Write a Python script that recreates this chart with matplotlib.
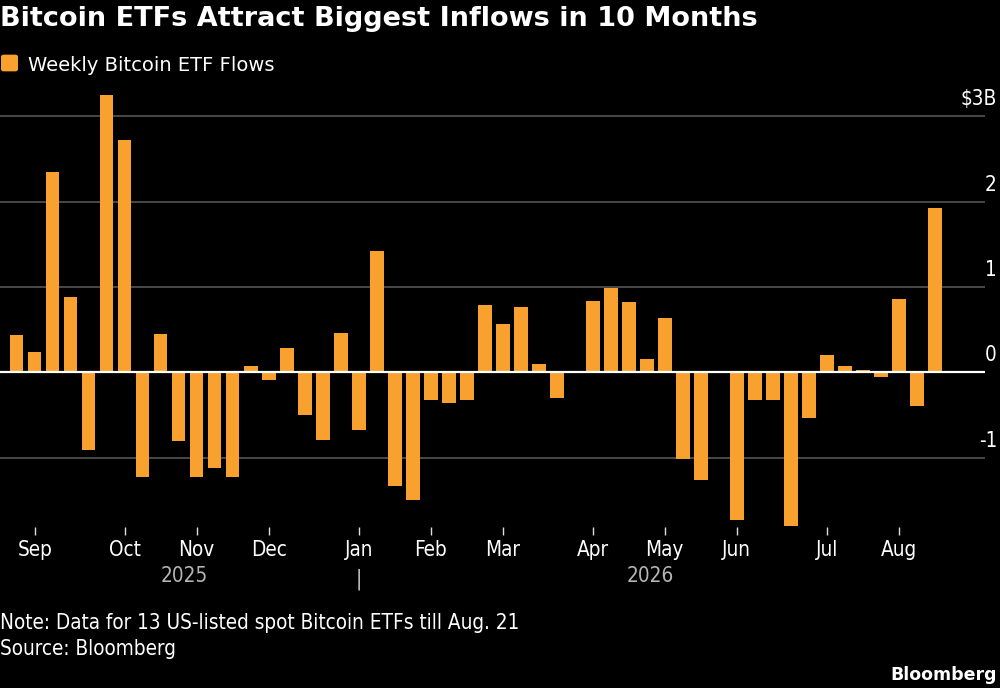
import matplotlib
matplotlib.use("Agg")
import matplotlib.pyplot as plt
from matplotlib import font_manager as fm
from matplotlib.patches import FancyBboxPatch
from matplotlib.transforms import blended_transform_factory

# weekly flows, $ billions, Sep 2025 .. Aug 21 2026
flows = [0.44, 0.24, 2.34, 0.88, -0.91, 3.25, 2.72, -1.23, 0.45, -0.80,
         -1.23, -1.12, -1.23, 0.07, -0.09, 0.29, -0.50, -0.79, 0.46, -0.68,
         1.42, -1.33, -1.49, -0.32, -0.36, -0.32, 0.79, 0.57, 0.76, 0.10,
         -0.30, 0.02, 0.84, 0.99, 0.82, 0.16, 0.63, -1.01, -1.26, 0.0,
         -1.73, -0.32, -0.32, -1.80, -0.53, 0.20, 0.07, 0.03, -0.06, 0.86,
         -0.39, 1.92]
month_weeks = [1, 6, 10, 14, 19, 23, 27, 32, 36, 40, 45, 49]
month_labels = ["Sep", "Oct", "Nov", "Dec", "Jan", "Feb", "Mar", "Apr",
                "May", "Jun", "Jul", "Aug"]
year_labels = ["2025", "2026"]
year_pos = [9.3, 35.2]
y_ticks = [-1, 0, 1, 2, 3]
y_tick_labels = ["-1", "0", "1", "2", "$3B"]

ORANGE = "#F9A12E"
BG = "black"
W, H = 1000, 688

# pick a narrow font for the axis / footnote text if we have one
cond_file = None
for f in fm.fontManager.ttflist:
    if f.name == "DejaVu Sans" and "Condensed" in f.fname and f.weight in ("normal", 400) and f.style == "normal":
        cond_file = f.fname
        break
if cond_file:
    small = fm.FontProperties(fname=cond_file, size=14.9)
else:
    small = fm.FontProperties(family="DejaVu Sans", size=13.5)


def fx(px):
    return px / W


def fy(py):
    return (H - py) / H


fig = plt.figure(figsize=(10, 6.88), dpi=100, facecolor=BG)
ax_top, ax_bot, ax_right = 90, 527, 985
ax = fig.add_axes([0, fy(ax_bot), fx(ax_right), (ax_bot - ax_top) / H])
ax.set_facecolor(BG)

xs = list(range(len(flows)))
ax.bar(xs, flows, width=0.75, color=ORANGE, zorder=2)

ax.set_xlim(-0.93, 53.79)
zero_px = 372.3
unit_px = 85.4
ax.set_ylim((zero_px - ax_bot) / unit_px, (zero_px - ax_top) / unit_px)

for v in y_ticks:
    if v == 0:
        ax.axhline(0, color="white", lw=1.6, zorder=3)
    else:
        ax.axhline(v, color="#5c5c5c", lw=1.1, zorder=1)

for s in ax.spines.values():
    s.set_visible(False)
ax.set_yticks([])

ax.set_xticks(month_weeks)
ax.set_xticklabels(month_labels, fontproperties=small, color="white")
ax.tick_params(axis="x", length=6, width=1, color="#dddddd", pad=3.5)

# y labels sit above their gridlines on the right
ytrans = blended_transform_factory(fig.transFigure, ax.transData)
for v, lab in zip(y_ticks, y_tick_labels):
    ax.text(0.997, v + 0.08, lab, transform=ytrans, ha="right", va="bottom",
            fontproperties=small, color="white")

# year row
xtrans = blended_transform_factory(ax.transData, fig.transFigure)
for p, lab in zip(year_pos, year_labels):
    ax.text(p, fy(582), lab, transform=xtrans, ha="center", va="baseline",
            fontproperties=small, color="#b5b5b5")
ax.text(month_weeks[4], fy(584), "|", transform=xtrans, ha="center", va="baseline",
        fontproperties=small, color="#cfcfcf")

# title and legend
fig.text(0.0, fy(26), "Bitcoin ETFs Attract Biggest Inflows in 10 Months",
         fontsize=19.5, fontweight="bold", color="white", family="DejaVu Sans",
         ha="left", va="baseline")
fig.patches.append(FancyBboxPatch((fx(3), fy(70)), fx(13), 14 / H,
                                  boxstyle="round,pad=0.002,rounding_size=0.003",
                                  transform=fig.transFigure, facecolor=ORANGE,
                                  edgecolor="none"))
fig.text(fx(28), fy(71), "Weekly Bitcoin ETF Flows", fontsize=14, color="white",
         family="DejaVu Sans", ha="left", va="baseline")

# footer
fig.text(0.0, fy(629), "Note: Data for 13 US-listed spot Bitcoin ETFs till Aug. 21",
         fontproperties=small, color="white", ha="left", va="baseline")
fig.text(0.0, fy(655), "Source: Bloomberg", fontproperties=small, color="white",
         ha="left", va="baseline")
fig.text(0.997, fy(680), "Bloomberg", fontsize=12.5, fontweight="bold",
         color="white", family="DejaVu Sans", ha="right", va="baseline")

fig.savefig("out.png", dpi=100, facecolor=BG)
